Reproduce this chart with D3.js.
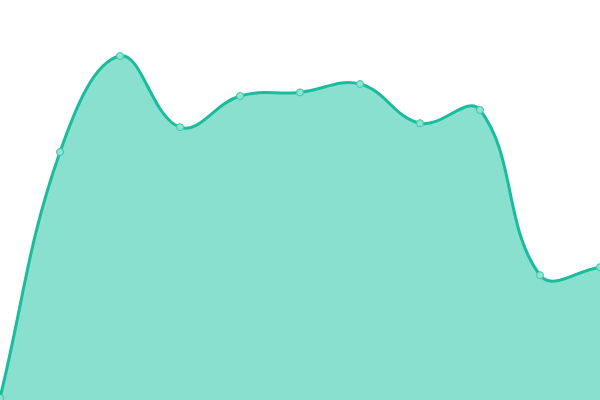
<!DOCTYPE html>
<html>
<head>
<meta charset="utf-8">
<script src="https://cdn.jsdelivr.net/npm/d3@7"></script>
<style>
  body { margin: 0; background: #fff; }
  svg { display: block; }
</style>
</head>
<body>
<svg id="chart"></svg>
<script>
const categories = [0, 1, 2, 3, 4, 5, 6, 7, 8, 9, 10];
const values = [0.5, 62, 86, 68.2, 76, 76.9, 79, 69.2, 72.5, 31.2, 33.2];

const width = 600;
const height = 400;
const tension = 0.4;

const data = categories.map((c, i) => ({ c, v: values[i] }));

const svg = d3.select("#chart")
    .attr("width", width)
    .attr("height", height);

const x = d3.scaleLinear()
    .domain(d3.extent(categories))
    .range([0, width]);

const y = d3.scaleLinear()
    .domain([0, 100])
    .range([height, 0]);

const pts = data.map(d => [x(d.c), y(d.v)]);

// tension spline, control points weighted by neighbour distance
function controls(p) {
    return p.map((cur, i) => {
        const prev = p[i - 1] || cur;
        const next = p[i + 1] || cur;
        const d01 = Math.hypot(cur[0] - prev[0], cur[1] - prev[1]);
        const d12 = Math.hypot(next[0] - cur[0], next[1] - cur[1]);
        const sum = d01 + d12 || 1;
        const fa = tension * d01 / sum;
        const fb = tension * d12 / sum;
        const dx = next[0] - prev[0], dy = next[1] - prev[1];
        return {
            before: [cur[0] - fa * dx, cur[1] - fa * dy],
            after: [cur[0] + fb * dx, cur[1] + fb * dy]
        };
    });
}

function splinePath(p) {
    const c = controls(p);
    const path = d3.path();
    path.moveTo(p[0][0], p[0][1]);
    for (let i = 1; i < p.length; i++) {
        path.bezierCurveTo(c[i - 1].after[0], c[i - 1].after[1],
            c[i].before[0], c[i].before[1], p[i][0], p[i][1]);
    }
    return path;
}

const linePath = splinePath(pts).toString();
const areaPath = linePath + `L${x(categories[categories.length - 1])},${y(0)}L${x(categories[0])},${y(0)}Z`;

svg.append("path")
    .attr("d", areaPath)
    .attr("fill", "#89e0cf");

svg.append("path")
    .attr("d", linePath)
    .attr("fill", "none")
    .attr("stroke", "#1abc9c")
    .attr("stroke-width", 3);

svg.selectAll("circle")
    .data(data)
    .enter()
    .append("circle")
    .attr("cx", d => x(d.c))
    .attr("cy", d => y(d.v))
    .attr("r", 3.5)
    .attr("fill", "#8ee3d1")
    .attr("stroke", "#3cc6a9")
    .attr("stroke-width", 1);
</script>
</body>
</html>
